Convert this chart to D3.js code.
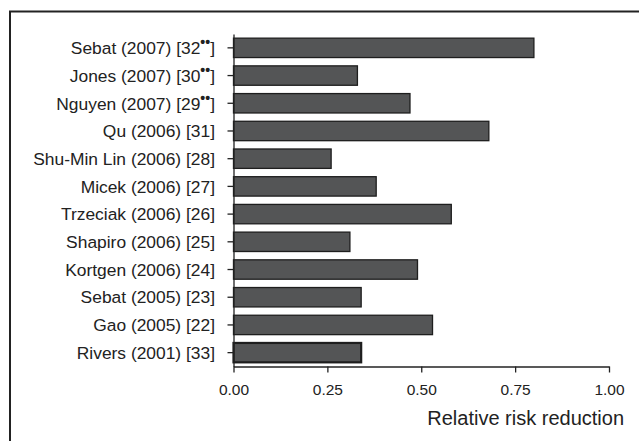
<!DOCTYPE html>
<html>
<head>
<meta charset="utf-8">
<script src="https://cdn.jsdelivr.net/npm/d3@7"></script>
<style>
  body { margin: 0; background: #fff; }
  text { font-family: "Liberation Sans", Arial, sans-serif; fill: #222; }
</style>
</head>
<body>
<div class="chart"></div>
<script>
const studies = ['Sebat (2007) [32', 'Jones (2007) [30', 'Nguyen (2007) [29', 'Qu (2006) [31]',
  'Shu-Min Lin (2006) [28]', 'Micek (2006) [27]', 'Trzeciak (2006) [26]', 'Shapiro (2006) [25]',
  'Kortgen (2006) [24]', 'Sebat (2005) [23]', 'Gao (2005) [22]', 'Rivers (2001) [33]'];
const marked = [true, true, true, false, false, false, false, false, false, false, false, false];
const rrr = [0.80, 0.33, 0.47, 0.68, 0.26, 0.38, 0.58, 0.31, 0.49, 0.34, 0.53, 0.34];
const xTicks = [0, 0.25, 0.5, 0.75, 1];

const width = 639, height = 441;
const svg = d3.select('.chart').append('svg').attr('width', width).attr('height', height);

// frame
svg.append('rect').attr('x', 10).attr('y', 11.5).attr('width', 640).attr('height', 440)
  .attr('fill', 'none').attr('stroke', '#222').attr('stroke-width', 2);

const x = d3.scaleLinear().domain([0, 1]).range([233.5, 609]);
const y = d3.scaleBand().domain(studies).range([34, 366.5]).paddingInner(0.3).paddingOuter(0.15);

// bars
svg.selectAll('rect.bar')
  .data(studies)
  .enter()
  .append('rect')
  .attr('class', 'bar')
  .attr('x', x(0))
  .attr('y', d => y(d))
  .attr('width', (d, i) => x(rrr[i]) - x(0))
  .attr('height', y.bandwidth())
  .attr('fill', '#545556')
  .attr('stroke', '#1e1e1e')
  .attr('stroke-width', (d, i) => i === studies.length - 1 ? 2.2 : 1.3);

// y axis
const yAxis = svg.append('g').attr('transform', 'translate(' + x(0) + ',0)')
  .call(d3.axisLeft(y).tickSize(6).tickSizeOuter(0).tickFormat(''));
yAxis.select('.domain').attr('stroke', '#222').attr('stroke-width', 1.3);
yAxis.selectAll('.tick line').attr('stroke', '#222').attr('stroke-width', 1.3);

// y labels
const lab = svg.selectAll('text.lab')
  .data(studies)
  .enter()
  .append('text')
  .attr('class', 'lab')
  .attr('x', 215)
  .attr('y', d => y(d) + y.bandwidth() / 2)
  .attr('dy', '0.36em')
  .attr('text-anchor', 'end')
  .style('font-size', '17.4px');
lab.append('tspan').text(d => d);
lab.filter((d, i) => marked[i]).append('tspan')
  .attr('dy', -7).style('font-size', '14px').style('font-weight', 'bold').text('\u2022\u2022');
lab.filter((d, i) => marked[i]).append('tspan')
  .attr('dy', 7).text(']');

// x axis
const xAxis = svg.append('g').attr('transform', 'translate(0,366.5)')
  .call(d3.axisBottom(x).tickValues(xTicks).tickSize(6).tickSizeOuter(0).tickFormat(d3.format('.2f')));
xAxis.select('.domain').attr('stroke', '#222').attr('stroke-width', 1.3);
xAxis.selectAll('.tick line').attr('stroke', '#222').attr('stroke-width', 1.3);
xAxis.selectAll('.tick text').attr('y', 17).style('font-size', '15.5px')
  .style('font-family', '"Liberation Sans", Arial, sans-serif').attr('fill', '#222');

svg.append('text')
  .attr('x', 624)
  .attr('y', 425)
  .attr('text-anchor', 'end')
  .style('font-size', '20px')
  .text('Relative risk reduction');
</script>
</body>
</html>
